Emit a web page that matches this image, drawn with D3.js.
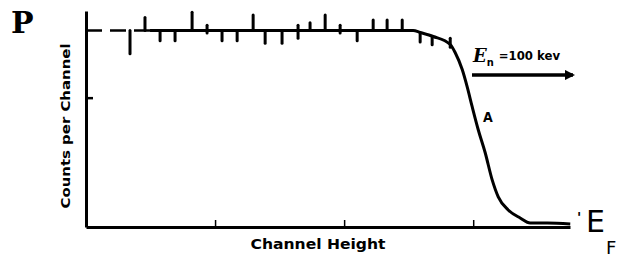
<!DOCTYPE html>
<html>
<head>
<meta charset="utf-8">
<script src="https://cdn.jsdelivr.net/npm/d3@7"></script>
<style>
  body { margin: 0; background: #fff; }
  svg { display: block; }
  .axis path, .axis line { stroke: #000; }
  .lbl { font-family: "DejaVu Sans Condensed", "DejaVu Sans", sans-serif; font-weight: bold; fill: #000; }
</style>
</head>
<body>
<div id="chart"></div>
<script>
// data (channel units, counts in arbitrary units)
var xTicks = [1, 2, 3];
var yTicks = [1];

var dashX = [0, 0.5];
var plateau = 1.52;

var curveX = [0.496, 2.535, 2.589, 2.690, 2.822, 2.860, 2.915, 2.953, 2.992, 3.039, 3.093, 3.147, 3.194, 3.271, 3.364, 3.442, 3.574, 3.752];
var curveY = [1.519, 1.519, 1.504, 1.473, 1.411, 1.349, 1.217, 1.085, 0.930, 0.752, 0.574, 0.364, 0.233, 0.132, 0.070, 0.031, 0.031, 0.023];

// error bars: channel, upper end, lower end
var errX  = [0.341, 0.457, 0.574, 0.690, 0.822, 0.938, 1.054, 1.171, 1.295, 1.388, 1.519, 1.643, 1.736, 1.853, 1.969, 2.101, 2.225, 2.333, 2.450, 2.589, 2.682, 2.822];
var errHi = [1.52, 1.62, 1.52, 1.52, 1.66, 1.56, 1.52, 1.52, 1.64, 1.52, 1.52, 1.56, 1.58, 1.64, 1.56, 1.52, 1.60, 1.60, 1.60, 1.50, 1.47, 1.46];
var errLo = [1.34, 1.52, 1.44, 1.44, 1.52, 1.50, 1.44, 1.44, 1.52, 1.42, 1.42, 1.46, 1.52, 1.52, 1.50, 1.44, 1.52, 1.52, 1.52, 1.43, 1.41, 1.39];

var width = 623, height = 259;
var margin = {top: 11, left: 86, bottom: 32, right: 53};

var svg = d3.select("#chart").append("svg")
    .attr("width", width)
    .attr("height", height);

var x = d3.scaleLinear().domain([0, 3.75]).range([margin.left, width - margin.right]);
var y = d3.scaleLinear().domain([0, 1.67]).range([height - margin.bottom, margin.top]);

// axes, ticks point inward, no labels
svg.append("g")
    .attr("class", "axis")
    .attr("transform", "translate(0," + y(0) + ")")
    .call(d3.axisBottom(x).tickValues(xTicks).tickSize(-7).tickSizeOuter(0).tickFormat(""))
    .call(function(g) { g.select(".domain").attr("stroke-width", 3); })
    .call(function(g) { g.selectAll(".tick line").attr("stroke-width", 1.5); });

svg.append("g")
    .attr("class", "axis")
    .attr("transform", "translate(" + x(0) + ",0)")
    .call(d3.axisLeft(y).tickValues(yTicks).tickSize(-7).tickSizeOuter(0).tickFormat(""))
    .call(function(g) { g.select(".domain").attr("stroke-width", 3); })
    .call(function(g) { g.selectAll(".tick line").attr("stroke-width", 2.5); });

// dashed extrapolation at the start
svg.append("line")
    .attr("x1", x(dashX[0])).attr("x2", x(dashX[1]))
    .attr("y1", y(plateau)).attr("y2", y(plateau))
    .attr("stroke", "#000")
    .attr("stroke-width", 2.5)
    .attr("stroke-dasharray", "16,8");

var pts = curveX.map(function(d, i) { return [d, curveY[i]]; });

var line = d3.line()
    .x(function(d) { return x(d[0]); })
    .y(function(d) { return y(d[1]); })
    .curve(d3.curveMonotoneX);

svg.append("path")
    .datum(pts)
    .attr("d", line)
    .attr("fill", "none")
    .attr("stroke", "#000")
    .attr("stroke-width", 3);

svg.selectAll(".err")
    .data(errX)
    .enter().append("line")
    .attr("class", "err")
    .attr("x1", function(d) { return x(d); })
    .attr("x2", function(d) { return x(d); })
    .attr("y1", function(d, i) { return y(errHi[i]); })
    .attr("y2", function(d, i) { return y(errLo[i]); })
    .attr("stroke", "#000")
    .attr("stroke-width", 3)
    .attr("stroke-linecap", "round");

// labels
svg.append("text")
    .attr("x", 11).attr("y", 33)
    .style("font-family", "DejaVu Serif")
    .style("font-weight", "bold")
    .style("font-size", "30px")
    .text("P");

svg.append("text")
    .attr("class", "lbl")
    .attr("transform", "translate(70,126) rotate(-90)")
    .attr("text-anchor", "middle")
    .style("font-size", "13px")
    .attr("textLength", 165)
    .attr("lengthAdjust", "spacingAndGlyphs")
    .text("Counts per Channel");

svg.append("text")
    .attr("class", "lbl")
    .attr("x", 318).attr("y", 249)
    .attr("text-anchor", "middle")
    .style("font-size", "14px")
    .attr("textLength", 135)
    .attr("lengthAdjust", "spacingAndGlyphs")
    .text("Channel Height");

// incident energy label and arrow
var en = svg.append("text")
    .attr("class", "lbl")
    .attr("x", 473).attr("y", 62)
    .style("font-size", "18px");
en.append("tspan").style("font-style", "italic").style("font-family", "DejaVu Serif").text("E");
en.append("tspan").attr("dy", 4).style("font-size", "11px").text("n");
en.append("tspan").attr("dy", -6).attr("dx", 5).style("font-size", "13px").text("=100 kev");

svg.append("defs").append("marker")
    .attr("id", "head")
    .attr("viewBox", "0 0 10 10")
    .attr("refX", 8).attr("refY", 5)
    .attr("markerWidth", 3).attr("markerHeight", 3)
    .attr("orient", "auto")
    .append("path")
    .attr("d", "M0,0L10,5L0,10Z")
    .attr("fill", "#000");

svg.append("line")
    .attr("x1", 472).attr("x2", 573)
    .attr("y1", 75).attr("y2", 75)
    .attr("stroke", "#000")
    .attr("stroke-width", 3.5)
    .attr("marker-end", "url(#head)");

svg.append("text")
    .attr("class", "lbl")
    .attr("x", 483).attr("y", 122)
    .style("font-size", "14px")
    .text("A");

svg.append("text")
    .attr("x", 577).attr("y", 222)
    .style("font-family", "DejaVu Sans")
    .style("font-weight", "bold")
    .style("font-size", "14px")
    .text("'");

var ef = svg.append("text")
    .attr("x", 586).attr("y", 232)
    .style("font-family", "DejaVu Sans")
    .style("font-size", "30px")
    .text("E");
ef.append("tspan").attr("dy", 22).attr("dx", 1).style("font-size", "18px").text("F");
</script>
</body>
</html>
